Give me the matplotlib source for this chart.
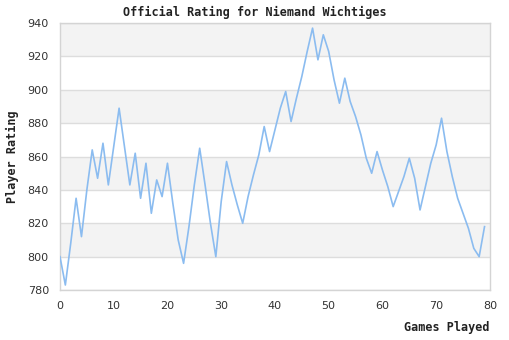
import matplotlib
matplotlib.use("Agg")
import matplotlib.pyplot as plt
import numpy as np

games = list(range(80))
rating = [800, 783, 808, 835, 812, 840, 864, 847, 868, 843,
          866, 889, 866, 843, 862, 835, 856, 826, 846, 836,
          856, 832, 810, 796, 818, 843, 865, 843, 820, 800,
          833, 857, 843, 831, 820, 836, 849, 861, 878, 863,
          876, 889, 899, 881, 895, 908, 923, 937, 918, 933,
          923, 906, 892, 907, 893, 884, 873, 859, 850, 863,
          852, 842, 830, 839, 848, 859, 847, 828, 842, 856,
          867, 883, 863, 848, 835, 826, 817, 805, 800, 818]

y_ticks = [780, 800, 820, 840, 860, 880, 900, 920, 940]
x_ticks = [0, 10, 20, 30, 40, 50, 60, 70, 80]

fig = plt.figure(figsize=(5.1, 3.4), dpi=100)
ax = fig.add_axes([0.1176, 0.147, 0.843, 0.785])

# alternating horizontal bands
for lo, hi in zip(y_ticks[:-1], y_ticks[1:]):
    if (lo // 20) % 2 == 0:
        ax.axhspan(lo, hi, color="#f3f3f3", zorder=0, lw=0)
for v in y_ticks:
    ax.axhline(v, color="#dddddd", lw=1, zorder=1)

ax.plot(games, rating, color="#8bbcf0", lw=1.2, zorder=3)

ax.set_xlim(0, 80)
ax.set_ylim(780, 940)
ax.set_xticks(x_ticks)
ax.set_yticks(y_ticks)
ax.tick_params(length=0, labelsize=8, colors="#333333", pad=8)
for s in ax.spines.values():
    s.set_color("#d4d4d4")
    s.set_linewidth(1)

mono = dict(family="DejaVu Sans Mono", weight="bold", size=8.5, color="#222222")
fig.text(0.5, 0.962, "Official Rating for Niemand Wichtiges", ha="center", va="center", **mono)
fig.text(0.024, 0.54, "Player Rating", rotation=90, ha="center", va="center", **mono)
fig.text(0.96, 0.038, "Games Played", ha="right", va="center", **mono)

fig.savefig("out.png", dpi=100, facecolor="white")
